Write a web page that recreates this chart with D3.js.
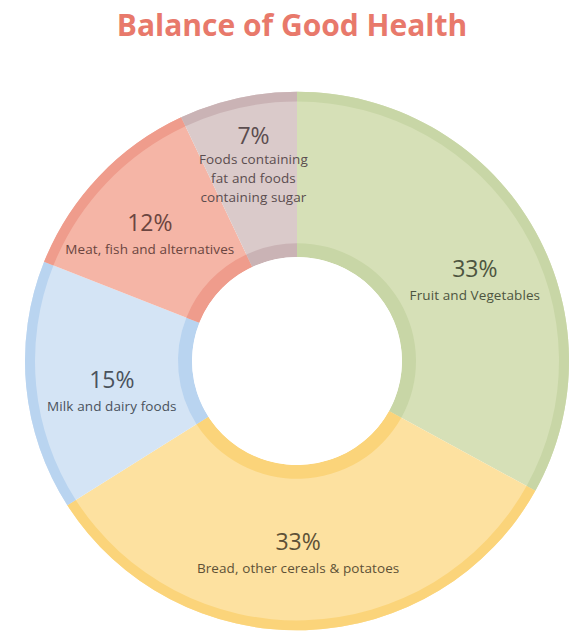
<!DOCTYPE html>
<html>
<head>
<meta charset="utf-8">
<script src="https://cdn.jsdelivr.net/npm/d3@7"></script>
<style>
  body { margin: 0; background: #fff; }
  svg { display: block; }
</style>
</head>
<body>
<div class="content"></div>
<script>

var categories = ["Fruit and Vegetables", "Bread, other cereals & potatoes", "Milk and dairy foods",
                  "Meat, fish and alternatives", "Foods containing fat and foods containing sugar"];
var labelLines = [["Fruit and Vegetables"], ["Bread, other cereals & potatoes"], ["Milk and dairy foods"],
                  ["Meat, fish and alternatives"], ["Foods containing", "fat and foods", "containing sugar"]];
var shares = [33, 33, 15, 12, 7];
var fills = ["#d6e0b7", "#fde1a0", "#d4e4f5", "#f5b5a6", "#dacaca"];
var rings = ["#c8d6a6", "#fbd47a", "#b9d4f0", "#ef9c8c", "#cab3b5"];
var textColors = ["#4d5540", "#5e5137", "#4a525c", "#6b4540", "#5b4d4f"];

// small shifts of each label away from its arc centroid, to sit as in the print
var labelNudge = [[10, 15], [-5, -6], [9, 9], [-5, 3], [-1, -27]];

var width = 575, height = 639;
var cx = 297, cy = 361;

var svg = d3.select(".content").append("svg")
   .attr("width", width)
   .attr("height", height);

svg.append("text")
   .attr("x", 292)
   .attr("y", 36)
   .attr("text-anchor", "middle")
   .attr("font-family", "'Open Sans', sans-serif")
   .attr("font-weight", "bold")
   .attr("font-size", 30)
   .attr("fill", "#e8796b")
   .text("Balance of Good Health");

var pie = d3.pie().sort(null).value(function(d) { return d; });
var slices = pie(shares);

var outerR = 272, innerR = 105;
var g = svg.append("g")
   .attr("transform", "translate(" + cx + "," + cy + ") scale(1,0.99)");

// main slice body
var arcBody = d3.arc().innerRadius(innerR).outerRadius(outerR);
// darker edge bands
var arcOuterBand = d3.arc().innerRadius(outerR - 10).outerRadius(outerR);
var arcInnerBand = d3.arc().innerRadius(innerR).outerRadius(innerR + 14);
var labelArc = d3.arc().innerRadius(195).outerRadius(195);

g.selectAll(".body")
   .data(slices)
   .enter().append("path")
   .attr("class", "body")
   .attr("d", arcBody)
   .attr("fill", function(d, i) { return fills[i]; });

g.selectAll(".outer-band")
   .data(slices)
   .enter().append("path")
   .attr("class", "outer-band")
   .attr("d", arcOuterBand)
   .attr("fill", function(d, i) { return rings[i]; });

g.selectAll(".inner-band")
   .data(slices)
   .enter().append("path")
   .attr("class", "inner-band")
   .attr("d", arcInnerBand)
   .attr("fill", function(d, i) { return rings[i]; });

g.append("circle")
   .attr("r", innerR)
   .attr("fill", "#fff");

// labels: percentage baseline at the nudged centroid, text lines below it
slices.forEach(function(d, i) {
   var c = labelArc.centroid(d);
   var lines = labelLines[i];
   var label = svg.append("g")
      .attr("transform", "translate(" + (cx + c[0] + labelNudge[i][0]) + "," + (cy + c[1] + labelNudge[i][1]) + ")")
      .attr("fill", textColors[i])
      .attr("font-family", "'Open Sans', sans-serif")
      .attr("text-anchor", "middle");

   label.append("text")
      .attr("font-size", 23)
      .text(shares[i] + "%");

   lines.forEach(function(line, j) {
      label.append("text")
         .attr("y", (lines.length > 1 ? 20 : 23) + j * 19)
         .attr("font-size", 13.5)
         .attr("letter-spacing", 0.1)
         .text(line);
   });
});

</script>
</body>
</html>
